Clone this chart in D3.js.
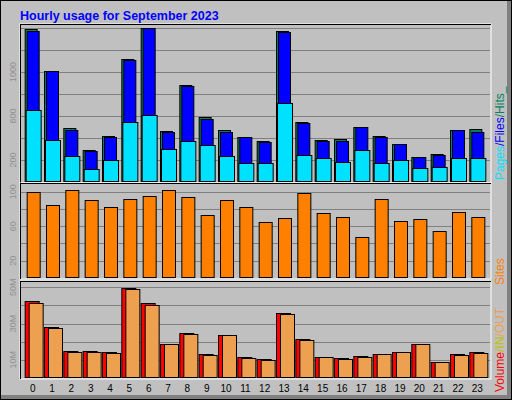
<!DOCTYPE html>
<html lang="en">
<head>
<meta charset="UTF-8">
<script src="https://cdnjs.cloudflare.com/ajax/libs/d3/7.8.5/d3.min.js"></script>
<style>
  body { margin: 0; background: #fff; }
  svg text { font-family: 'Liberation Sans', Arial, sans-serif; }
</style>
</head>
<body>
<svg id="chart" width="512" height="400"></svg>
<script>
const hours = d3.range(24).map(String);
const hits  = [1388,1006,488,288,415,1115,1397,461,879,588,470,409,370,1370,543,379,388,497,415,342,224,252,470,479];
const files = [1375,1006,470,279,406,1106,1397,452,870,573,452,409,361,1361,533,370,370,497,406,342,224,242,470,452];
const pages = [655,379,233,115,197,543,606,297,370,333,233,170,170,715,242,215,179,288,170,197,124,133,215,215];
const sites = [100,84,102,90,82,91,95,102,94,73,90,82,65,70,99,75,71,48,91,66,68,54,77,71];
const volume = [42.6,28.1,14.9,14.9,14.3,49.5,41.3,18.7,24.8,13.2,23.7,11.6,10.5,35.8,21.5,11.6,11.0,12.1,13.2,14.3,18.7,8.8,13.2,14.3];
const volOut = [41.3,27.5,14.3,14.3,13.8,49.0,40.2,18.7,24.2,12.7,23.7,11.0,9.9,35.2,20.9,11.6,10.5,11.6,13.2,14.3,18.7,8.8,12.7,13.8];
const volIn  = [0.6,0.6,0,0,0,0.6,0.6,0,0,0,0,0,0,0.6,0,0,0,0,0,0,0,0,0,0];

const svg = d3.select('#chart');
// frame
svg.append('rect').attr('x',0).attr('y',0).attr('width',512).attr('height',400).attr('fill','#000');
svg.append('rect').attr('x',1).attr('y',1).attr('width',510).attr('height',398).attr('fill','#808080');
svg.append('rect').attr('x',1).attr('y',1).attr('width',506).attr('height',394).attr('fill','#c0c0c0');

svg.append('text').attr('x',20).attr('y',20).attr('fill','#0000ff')
  .style('font-size','12.5px').style('font-weight','bold').text('Hourly usage for September 2023');

const x = d3.scaleBand().domain(hours).range([23, 487]);
const cx = h => x(h) + x.bandwidth()/2;

function panel(y0, y1, dom, step, labelled, fmt) {
  const y = d3.scaleLinear().domain(dom).range([y1, y0]);
  svg.append('rect').attr('x',20).attr('y',y0).attr('width',471).attr('height',y1-y0+1)
    .attr('fill','#c0c0c0').attr('stroke','#fff');
  svg.append('line').attr('x1',20.5).attr('x2',20.5).attr('y1',y0).attr('y2',y1+1).attr('stroke','#000');
  svg.append('line').attr('x1',20).attr('x2',491).attr('y1',y0+0.5).attr('y2',y0+0.5).attr('stroke','#000');
  const g = svg.append('g');
  d3.range(step, dom[1], step).forEach(v => {
    g.append('line').attr('x1',21).attr('x2',490).attr('y1',Math.round(y(v))+0.5).attr('y2',Math.round(y(v))+0.5)
      .attr('stroke','#808080');
  });
  labelled.forEach(v => {
    g.append('text').attr('transform',`translate(16,${y(v)}) rotate(-90)`).attr('text-anchor','middle')
      .attr('fill','#909090').style('font-size','9px').text(fmt(v));
  });
  return y;
}

function bars(data, y, dx0, dx1, fill) {
  svg.append('g').selectAll('rect').data(data).join('rect')
    .attr('x', (d,i) => cx(hours[i]) + dx0 + 0.5)
    .attr('width', dx1 - dx0)
    .attr('y', d => Math.round(y(d)) + 0.5)
    .attr('height', d => Math.max(0, y.range()[0] - Math.round(y(d)) - 1))
    .attr('fill', fill).attr('stroke','#000');
}

const yTop = panel(24, 182, [0,1436], 200, [200,600,1000], d => d);
bars(hits, yTop, -8, 4, '#008060');
bars(files, yTop, -6, 6, '#0000ff');
bars(pages, yTop, -7, 8, '#00e0ff');

const yMid = panel(183, 278, [0,110], 20, [20,60,100], d => d);
bars(sites, yMid, -6, 7, '#ff8000');

const yBot = panel(281, 378, [0,53.4], 10, [10,30,50], d => d + 'M');
bars(volume, yBot, -8, 6, '#ff0000');
bars(volIn, yBot, -6, -4, '#ffff00');
bars(volOut, yBot, -4, 10, '#eca050');

svg.append('g').selectAll('text').data(hours).join('text')
  .attr('x', d => cx(d)).attr('y', 392).attr('text-anchor','middle')
  .style('font-size','10px').attr('fill','#000').text(d => d);

function sideLabel(y, parts) {
  const t = svg.append('text').attr('transform',`translate(504,${y}) rotate(-90)`).style('font-size','12px');
  parts.forEach(([s,c]) => t.append('tspan').attr('fill',c).text(s));
}
sideLabel(180, [['Pages','#00e0ff'],['/','#0000ff'],['Files','#0000ff'],['/','#008060'],['Hits_','#008060']]);
sideLabel(285, [['Sites','#ff8000']]);
sideLabel(392, [['Volume','#ff0000'],['/IN','#c0c000'],['/OUT','#eca050']]);
</script>
</body>
</html>
